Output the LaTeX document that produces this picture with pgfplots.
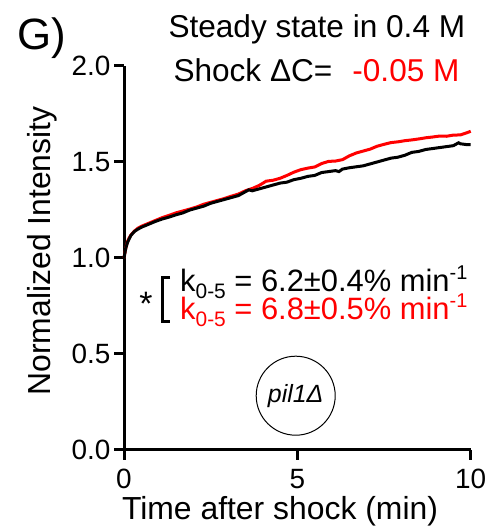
\documentclass[border=0pt]{standalone}
\usepackage{fontspec}
\setmainfont{Liberation Sans}
\usepackage{pgfplots}
\pgfplotsset{compat=1.18}
\newcommand{\fs}[1]{\fontsize{#1}{#1}\selectfont}
\newcommand{\ksub}{k\raisebox{-0.22em}{\fs{21}0-5}}
\newcommand{\msup}{min\raisebox{0.42em}{\fs{20}-1}}
\begin{document}
\begin{tikzpicture}[x=1bp,y=1bp]
\begin{axis}[
  at={(124bp,78bp)}, anchor=south west,
  width=346.7bp, height=384bp, scale only axis,
  xmin=0, xmax=10, ymin=0, ymax=2,
  axis x line=bottom, axis y line=left,
  axis line style={line width=3bp, -},
  xtick={0,5,10}, ytick={0,0.5,1,1.5,2},
  tick align=outside, major tick length=10bp,
  tick style={line width=3bp, black},
  y tick label style={/pgf/number format/.cd, fixed, fixed zerofill, precision=1},
  x tick label style={yshift=-6bp},
  tick label style={font=\fs{28}},
  /pgf/number format/assume math mode=true,
  clip=false,
]
\addplot[red, line width=3bp] coordinates {
(0,1.00) (0.05,1.05) (0.1,1.085) (0.15,1.105) (0.2,1.12) (0.3,1.14) (0.4,1.155) (0.5,1.165)
(0.7,1.18) (0.9,1.195) (1.1,1.21) (1.3,1.222) (1.5,1.235) (1.7,1.245) (1.9,1.255) (2.1,1.266)
(2.3,1.28) (2.5,1.29) (2.7,1.30) (2.9,1.31) (3.1,1.322) (3.3,1.333) (3.5,1.35) (3.7,1.362)
(3.9,1.378) (4.1,1.40) (4.3,1.405) (4.5,1.415) (4.7,1.43) (4.9,1.447) (5.1,1.46) (5.3,1.468)
(5.5,1.474) (5.7,1.492) (5.9,1.503) (6.1,1.505) (6.3,1.512) (6.5,1.532) (6.7,1.547) (6.9,1.557)
(7.1,1.567) (7.3,1.582) (7.5,1.592) (7.7,1.601) (7.9,1.605) (8.1,1.611) (8.3,1.615) (8.5,1.620)
(8.7,1.626) (8.9,1.630) (9.1,1.635) (9.3,1.634) (9.5,1.640) (9.7,1.641) (9.9,1.653) (10,1.66)
};
\addplot[black, line width=3bp] coordinates {
(0,1.00) (0.05,1.05) (0.1,1.08) (0.15,1.10) (0.2,1.118) (0.3,1.138) (0.4,1.15) (0.5,1.16)
(0.7,1.175) (0.9,1.19) (1.1,1.203) (1.3,1.213) (1.5,1.225) (1.7,1.235) (1.9,1.25) (2.1,1.26)
(2.3,1.27) (2.5,1.285) (2.7,1.295) (2.9,1.305) (3.1,1.315) (3.3,1.325) (3.5,1.345) (3.6,1.355)
(3.7,1.35) (3.9,1.36) (4.1,1.37) (4.3,1.38) (4.5,1.39) (4.7,1.395) (4.9,1.408) (5.1,1.415)
(5.3,1.425) (5.5,1.43) (5.7,1.445) (5.9,1.45) (6.1,1.455) (6.2,1.45) (6.3,1.463) (6.5,1.47)
(6.7,1.475) (6.9,1.48) (7.1,1.49) (7.3,1.50) (7.5,1.51) (7.7,1.52) (7.9,1.525) (8.1,1.535)
(8.3,1.55) (8.5,1.555) (8.7,1.565) (8.9,1.57) (9.1,1.575) (9.3,1.58) (9.5,1.585) (9.65,1.60)
(9.7,1.595) (9.9,1.59) (10,1.59)
};
\end{axis}
\node[anchor=base west, font=\fs{44}] at (14,478) {G)};
\node[anchor=base west, font=\fs{31.7}] at (165,490) {Steady state in 0.4 M};
\node[anchor=base west, font=\fs{31.7}] at (170,446) {Shock ΔC=};
\node[anchor=base east, font=\fs{31.7}, text=red] at (463,446) {-0.05 M};
\node[anchor=base, font=\fs{34}] at (146,212) {*};
\draw[line width=3bp] (170,250) -- (162,250) -- (162,206) -- (170,206);
\node[anchor=base west, inner xsep=0pt, font=\fs{31}] at (180,236) {\ksub\ = 6.2±0.4\% \msup};
\node[anchor=base west, inner xsep=0pt, font=\fs{31}, text=red] at (180,208) {\ksub\ = 6.8±0.5\% \msup};
\draw[line width=1bp] (295.7,132.3) circle (39.5);
\node[font=\fs{25}\itshape] at (295.7,132.3) {pil1Δ};
\node[rotate=90, font=\fs{32}] at (42,277) {Normalized Intensity};
\node[anchor=base, font=\fs{32}] at (280,8) {Time after shock (min)};
\pgfresetboundingbox
\useasboundingbox (0,0) rectangle (485,528);
\end{tikzpicture}
\end{document}
